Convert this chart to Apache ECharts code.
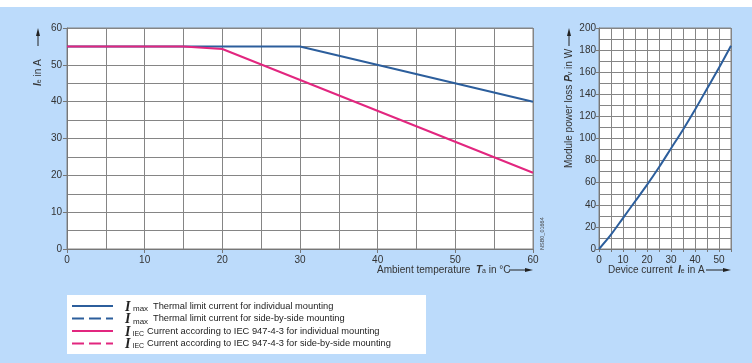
<!DOCTYPE html>
<html>
<head>
<meta charset="utf-8">
<script src="https://cdn.jsdelivr.net/npm/echarts@6/dist/echarts.min.js"></script>
<style>
  html, body { margin: 0; padding: 0; background: #fff; }
  #chartdiv { width: 752px; height: 363px; }
</style>
</head>
<body>
<div id="chartdiv"></div>
<script>
// Left chart: current vs ambient temperature
const imaxTemp = [0, 30, 60];
const imaxAmp = [55, 55, 40];
const iecTemp = [0, 15, 20, 60];
const iecAmp = [55, 55, 54.3, 20.7];

// Right chart: module power loss vs device current
const deviceCurrent = [0, 5, 10, 15, 20, 25, 30, 35, 40, 45, 50, 55];
const powerLoss = [0, 13, 28, 43, 58, 74, 91, 108, 126, 145, 164, 184];

const legendRows = [
  { sym: "max", text: "Thermal limit current for individual mounting", color: "#2c5e9c", dash: null },
  { sym: "max", text: "Thermal limit current for side-by-side mounting", color: "#2c5e9c", dash: [12, 5] },
  { sym: "IEC", text: "Current according to IEC 947-4-3 for individual mounting", color: "#e2267f", dash: null },
  { sym: "IEC", text: "Current according to IEC 947-4-3 for side-by-side mounting", color: "#e2267f", dash: [12, 5] }
];

const BLUE = "#2c5e9c";
const PINK = "#e2267f";
const GRIDLINE = "#858585";
const TXT = "#333";
const FONT = "Liberation Sans, Arial, sans-serif";

function zip(xs, ys) {
  return xs.map((x, i) => [x, ys[i]]);
}

function arrowUp(x, yTop, len) {
  return [
    { type: "line", shape: { x1: x, y1: yTop + 7, x2: x, y2: yTop + len }, style: { stroke: "#222", lineWidth: 1 } },
    { type: "polygon", shape: { points: [[x, yTop], [x - 2, yTop + 8], [x + 2, yTop + 8]] }, style: { fill: "#222" } }
  ];
}

function arrowRight(xStart, y, xEnd) {
  return [
    { type: "line", shape: { x1: xStart, y1: y, x2: xEnd - 7, y2: y }, style: { stroke: "#222", lineWidth: 1 } },
    { type: "polygon", shape: { points: [[xEnd, y], [xEnd - 8, y - 2], [xEnd - 8, y + 2]] }, style: { fill: "#222" } }
  ];
}

const nameRich = {
  n: { fontSize: 10, fontFamily: FONT, fill: TXT },
  i: { fontSize: 10, fontFamily: FONT, fontStyle: "italic", fontWeight: "bold", fill: TXT },
  s: { fontSize: 7, fontFamily: FONT, fill: TXT, verticalAlign: "bottom", padding: [3, 0, 0, 0] }
};

function buildGraphic() {
  const g = [];
  // white strip on top
  g.push({ type: "rect", shape: { x: 0, y: 0, width: 752, height: 7 }, style: { fill: "#fff" }, z: 10 });

  // axis titles
  g.push({
    type: "text", x: 38, y: 86, rotation: Math.PI / 2,
    style: { text: "{i|I}{s|e}{n| in A}", rich: nameRich, align: "left", verticalAlign: "middle" }
  });
  g.push(...arrowUp(38, 28, 18));

  g.push({
    type: "text", x: 569, y: 168, rotation: Math.PI / 2,
    style: { text: "{n|Module power loss }{i|P}{s|v}{n| in W}", rich: nameRich, align: "left", verticalAlign: "middle" }
  });
  g.push(...arrowUp(569, 28, 18));

  g.push({
    type: "text", x: 377, y: 270,
    style: { text: "{n|Ambient temperature  }{i|T}{s|a}{n| in °C}", rich: nameRich, align: "left", verticalAlign: "middle" }
  });
  g.push(...arrowRight(509, 270, 533));

  g.push({
    type: "text", x: 608, y: 270,
    style: { text: "{n|Device current  }{i|I}{s|e}{n| in A}", rich: nameRich, align: "left", verticalAlign: "middle" }
  });
  g.push(...arrowRight(706, 270, 731));

  // drawing code
  g.push({
    type: "text", x: 542, y: 250, rotation: Math.PI / 2,
    style: { text: "NSB0_01664", fontSize: 5.5, fontFamily: FONT, fill: "#444", align: "left", verticalAlign: "middle" }
  });

  // legend box
  g.push({ type: "rect", shape: { x: 67, y: 295, width: 359, height: 59 }, style: { fill: "#fff" } });
  legendRows.forEach((row, k) => {
    const y = 306 + k * 12.5;
    const isMax = row.sym === "max";
    g.push({
      type: "line", shape: { x1: 72, y1: y, x2: 113, y2: y },
      style: { stroke: row.color, lineWidth: 2, lineDash: row.dash || null }
    });
    g.push({
      type: "text", x: 125, y: y + 1,
      style: { text: "I", fontSize: 14, fontFamily: "Liberation Serif, Times New Roman, serif", fontStyle: "italic", fontWeight: "bold", fill: "#222", align: "left", verticalAlign: "middle" }
    });
    g.push({
      type: "text", x: isMax ? 133 : 132.5, y: y + 3,
      style: { text: row.sym, fontSize: isMax ? 8 : 7, fontFamily: FONT, fill: "#222", align: "left", verticalAlign: "middle" }
    });
    g.push({
      type: "text", x: isMax ? 153 : 147, y: y,
      style: { text: row.text, fontSize: 9.3, fontFamily: FONT, fill: "#222", align: "left", verticalAlign: "middle" }
    });
  });
  return g;
}

const splitStyle = { show: true, lineStyle: { color: GRIDLINE, width: 1 } };
const axisLineStyle = { show: true, lineStyle: { color: "#777", width: 1 } };
const labelStyle = { color: TXT, fontSize: 10, fontFamily: FONT };

const option = {
  backgroundColor: "#bcdbfb",
  animation: false,
  grid: [
    { left: 67, top: 28, width: 466, height: 221, show: true, backgroundColor: "#fff", borderColor: GRIDLINE, borderWidth: 1 },
    { left: 599, top: 28, width: 132, height: 221, show: true, backgroundColor: "#fff", borderColor: GRIDLINE, borderWidth: 1 }
  ],
  xAxis: [
    {
      type: "value", gridIndex: 0, min: 0, max: 60, interval: 10,
      axisLine: axisLineStyle,
      axisTick: { show: true, length: 4, lineStyle: { color: "#777" } },
      axisLabel: Object.assign({ margin: 6 }, labelStyle),
      splitLine: splitStyle,
      minorTick: { show: false, splitNumber: 2 },
      minorSplitLine: { show: true, lineStyle: { color: GRIDLINE, width: 1 } }
    },
    {
      type: "value", gridIndex: 1, min: 0, max: 55, interval: 5,
      axisLine: axisLineStyle,
      axisTick: { show: true, length: 3, lineStyle: { color: "#777" } },
      axisLabel: Object.assign({ margin: 6, formatter: v => (v % 10 === 0 ? String(v) : "") }, labelStyle),
      splitLine: splitStyle
    }
  ],
  yAxis: [
    {
      type: "value", gridIndex: 0, min: 0, max: 60, interval: 10,
      axisLine: axisLineStyle,
      axisTick: { show: true, length: 4, lineStyle: { color: "#777" } },
      axisLabel: Object.assign({ margin: 5 }, labelStyle),
      splitLine: splitStyle,
      minorTick: { show: false, splitNumber: 2 },
      minorSplitLine: { show: true, lineStyle: { color: GRIDLINE, width: 1 } }
    },
    {
      type: "value", gridIndex: 1, min: 0, max: 200, interval: 20,
      axisLine: axisLineStyle,
      axisTick: { show: true, length: 3, lineStyle: { color: "#777" } },
      axisLabel: Object.assign({ margin: 3 }, labelStyle),
      splitLine: splitStyle,
      minorTick: { show: false, splitNumber: 2 },
      minorSplitLine: { show: true, lineStyle: { color: GRIDLINE, width: 1 } }
    }
  ],
  series: [
    {
      name: "Imax individual", type: "line", xAxisIndex: 0, yAxisIndex: 0,
      data: zip(imaxTemp, imaxAmp), symbol: "none",
      lineStyle: { color: BLUE, width: 2 }, z: 3
    },
    {
      name: "IIEC individual", type: "line", xAxisIndex: 0, yAxisIndex: 0,
      data: zip(iecTemp, iecAmp), symbol: "none",
      lineStyle: { color: PINK, width: 2 }, z: 4
    },
    {
      name: "Power loss", type: "line", xAxisIndex: 1, yAxisIndex: 1,
      data: zip(deviceCurrent, powerLoss), symbol: "none", smooth: 0.3,
      lineStyle: { color: BLUE, width: 2 }
    }
  ],
  graphic: buildGraphic()
};

const chart = echarts.init(document.getElementById("chartdiv"));
chart.setOption(option);
</script>
</body>
</html>
